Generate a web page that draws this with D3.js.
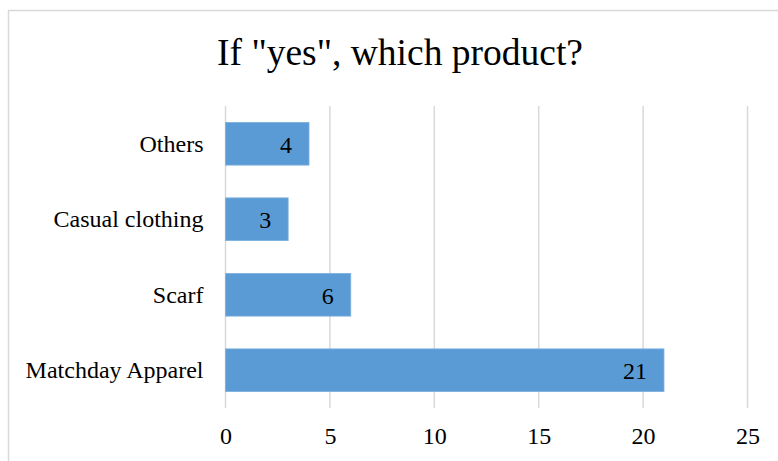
<!DOCTYPE html>
<html>
<head>
<meta charset="utf-8">
<script src="https://cdn.jsdelivr.net/npm/d3@7"></script>
<style>
  html, body { margin: 0; padding: 0; background: #fff; }
  svg { display: block; }
  text { font-family: "Liberation Serif", "Times New Roman", serif; fill: #000; }
</style>
</head>
<body>
<svg id="chart" width="778" height="461"></svg>
<script>
const title = 'If "yes", which product?';
const categories = ["Others", "Casual clothing", "Scarf", "Matchday Apparel"];
const counts = [4, 3, 6, 21];
const xTicks = [0, 5, 10, 15, 20, 25];

const W = 778, H = 461;
const plot = { left: 225.5, right: 747.5, top: 106, bottom: 408 };

const svg = d3.select("#chart");

// outer chart frame
svg.append("rect")
  .attr("x", 8.5).attr("y", 10.5)
  .attr("width", W + 20).attr("height", H + 20)
  .attr("fill", "#fff")
  .attr("stroke", "#d9d9d9").attr("stroke-width", 1.5);

svg.append("text")
  .attr("x", 400).attr("y", 65)
  .attr("text-anchor", "middle")
  .style("font-size", "37.5px")
  .text(title);

const x = d3.scaleLinear().domain([0, 25]).range([plot.left, plot.right]);
const y = d3.scaleBand().domain(categories)
  .range([plot.top, plot.bottom])
  .paddingInner(0.434).paddingOuter(0.217);

// vertical gridlines
svg.append("g")
  .selectAll("line")
  .data(xTicks)
  .join("line")
  .attr("x1", d => x(d)).attr("x2", d => x(d))
  .attr("y1", plot.top).attr("y2", plot.bottom)
  .attr("stroke", "#d9d9d9").attr("stroke-width", 1.5);

// x axis labels
const xAxis = d3.axisBottom(x).tickValues(xTicks).tickSize(0).tickPadding(0);
const gx = svg.append("g")
  .attr("transform", `translate(0,${plot.bottom})`)
  .call(xAxis);
gx.select(".domain").remove();
gx.selectAll("text")
  .attr("y", 36).attr("dy", 0)
  .style("font-size", "24px")
  .style("font-family", '"Liberation Serif", "Times New Roman", serif')
  .attr("fill", "#000");

// y axis labels
const yAxis = d3.axisLeft(y).tickSize(0).tickPadding(0);
const gy = svg.append("g")
  .attr("transform", `translate(${plot.left - 22},0)`)
  .call(yAxis);
gy.select(".domain").remove();
gy.selectAll("text")
  .attr("dy", "0.33em")
  .style("font-size", "24px")
  .style("font-family", '"Liberation Serif", "Times New Roman", serif')
  .attr("fill", "#000");

// bars
const rows = categories.map((c, i) => ({ c, v: counts[i] }));
svg.append("g")
  .selectAll("rect")
  .data(rows)
  .join("rect")
  .attr("x", x(0))
  .attr("y", d => y(d.c))
  .attr("width", d => x(d.v) - x(0))
  .attr("height", y.bandwidth())
  .attr("fill", "#5b9bd5")
  .attr("stroke", "#7eb1de").attr("stroke-width", 0.8);

// value labels at inside end
svg.append("g")
  .selectAll("text")
  .data(rows)
  .join("text")
  .attr("x", d => x(d.v) - 17)
  .attr("y", d => y(d.c) + y.bandwidth() / 2)
  .attr("dy", "0.38em")
  .attr("text-anchor", "end")
  .style("font-size", "24px")
  .text(d => d.v);
</script>
</body>
</html>
